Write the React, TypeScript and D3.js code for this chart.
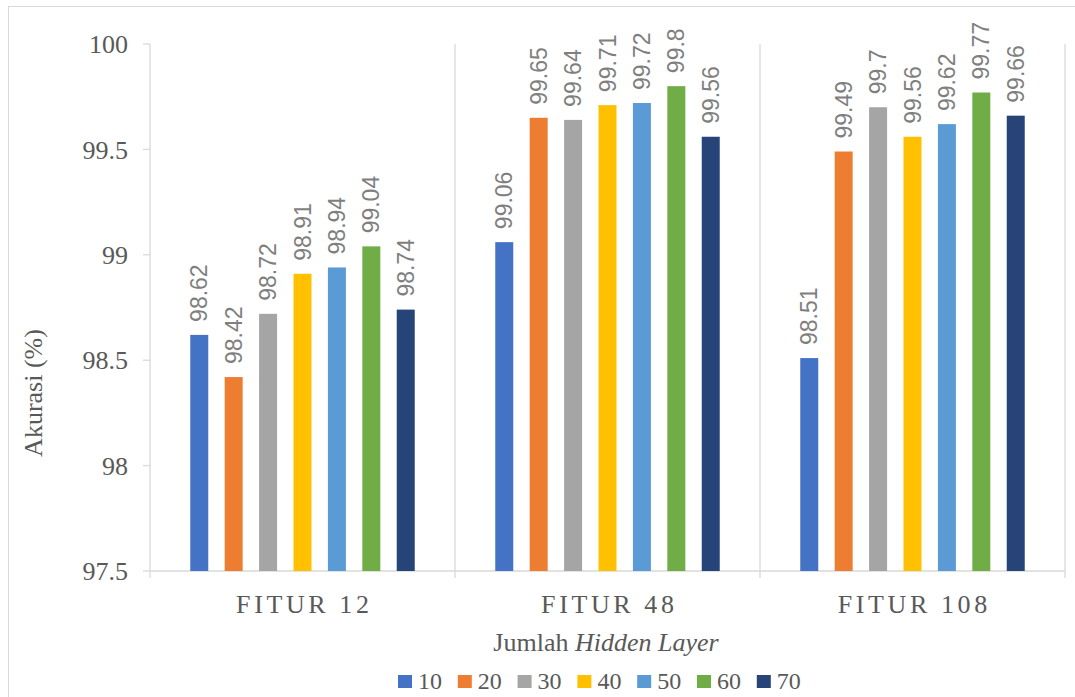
import React from "react";
import * as d3 from "d3";

// Accuracy per feature set and hidden-layer size
const categories = ["FITUR 12", "FITUR 48", "FITUR 108"];
const hiddenLayers = ["10", "20", "30", "40", "50", "60", "70"];
const fitur12 = [98.62, 98.42, 98.72, 98.91, 98.94, 99.04, 98.74];
const fitur48 = [99.06, 99.65, 99.64, 99.71, 99.72, 99.8, 99.56];
const fitur108 = [98.51, 99.49, 99.7, 99.56, 99.62, 99.77, 99.66];
const yTicks = [97.5, 98, 98.5, 99, 99.5, 100];
const colors = ["#4472C4", "#ED7D31", "#A5A5A5", "#FFC000", "#5B9BD5", "#70AD47", "#264478"];

const seriesByCategory = [fitur12, fitur48, fitur108];

const W = 1075;
const H = 697;
const plot = { left: 150, right: 1065, top: 44, bottom: 571 };

const serif = "Liberation Serif";
const sans = "Liberation Sans";
const gridColor = "#d9d9d9";
const textColor = "#595959";

const serifStyle = (size: number, extra: React.CSSProperties = {}): React.CSSProperties => ({
  fontFamily: serif,
  fontSize: size,
  ...extra,
});

export default function App() {
  const x0 = d3.scaleBand<string>().domain(categories).range([plot.left, plot.right]).padding(0);
  const x1 = d3
    .scaleBand<string>()
    .domain(hiddenLayers)
    .range([0, x0.bandwidth()])
    .paddingInner(0.477)
    .paddingOuter(1.17);
  const y = d3.scaleLinear().domain([97.5, 100]).range([plot.bottom, plot.top]);

  const boundaries = [...categories.map((c) => x0(c)!), plot.right];
  const ls = 3.6;

  return (
    <svg
      width={W}
      height={H}
      style={{ position: "absolute", left: 0, top: 0, background: "#fff" }}
    >
      <rect x={8.5} y={6.5} width={1070} height={700} fill="#fff" stroke={gridColor} strokeWidth={1} />

      {/* category separators */}
      {boundaries.map((bx, i) => (
        <line key={"b" + i} x1={bx} x2={bx} y1={plot.top} y2={plot.bottom + 7} stroke={gridColor} strokeWidth={1.3} />
      ))}

      {/* y axis ticks and labels */}
      {yTicks.map((t) => (
        <g key={t}>
          <line x1={plot.left - 7} x2={plot.left} y1={y(t)} y2={y(t)} stroke={gridColor} strokeWidth={1.3} />
          <text x={128} y={y(t)} dy="0.35em" textAnchor="end" fill={textColor} style={serifStyle(26)}>
            {String(t)}
          </text>
        </g>
      ))}

      {/* x axis baseline */}
      <line x1={plot.left} x2={plot.right} y1={plot.bottom} y2={plot.bottom} stroke={gridColor} strokeWidth={1.3} />

      {/* bars and value labels */}
      {categories.map((c, ci) => (
        <g key={c} transform={`translate(${x0(c)},0)`}>
          {hiddenLayers.map((h, si) => {
            const v = seriesByCategory[ci][si];
            const bx = x1(h)!;
            const bw = x1.bandwidth();
            const top = y(v);
            return (
              <g key={h}>
                <rect x={bx} y={top} width={bw} height={plot.bottom - top} fill={colors[si]} />
                <text
                  transform={`translate(${bx + bw / 2},${top - 13}) rotate(-90)`}
                  dy="0.35em"
                  textAnchor="start"
                  fill="#7f7f7f"
                  style={{ fontFamily: sans, fontSize: 23 }}
                >
                  {String(v)}
                </text>
              </g>
            );
          })}
          <text
            x={x0.bandwidth() / 2 + ls / 2}
            y={613}
            textAnchor="middle"
            fill={textColor}
            style={serifStyle(26, { letterSpacing: `${ls}px` })}
          >
            {c}
          </text>
        </g>
      ))}

      {/* axis titles */}
      <text transform="translate(42,393) rotate(-90)" textAnchor="middle" fill={textColor} style={serifStyle(26)}>
        Akurasi (%)
      </text>
      <text x={606} y={651} textAnchor="middle" fill={textColor} style={serifStyle(26)}>
        Jumlah <tspan style={{ fontStyle: "italic" }}>Hidden Layer</tspan>
      </text>

      {/* legend */}
      {hiddenLayers.map((h, i) => {
        const lx = 398 + i * 59.8;
        return (
          <g key={"lg" + h}>
            <rect x={lx} y={675} width={14} height={13} fill={colors[i]} />
            <text x={lx + 20} y={689} fill={textColor} style={serifStyle(24)}>
              {h}
            </text>
          </g>
        );
      })}
    </svg>
  );
}
